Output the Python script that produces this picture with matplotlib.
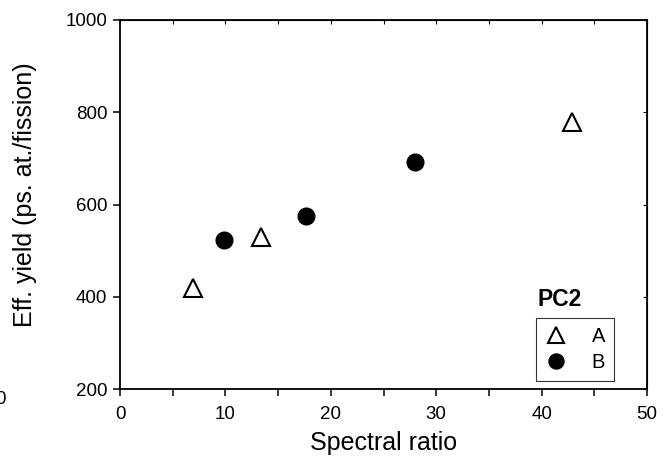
import matplotlib
matplotlib.use("Agg")
import matplotlib.pyplot as plt
from matplotlib.ticker import MultipleLocator

plt.rcParams['font.family'] = ['Liberation Sans', 'DejaVu Sans']

a_x = [6.9, 13.4, 42.9]
a_y = [419, 529, 778]
b_x = [9.9, 17.6, 28.0]
b_y = [523, 574, 693]
x_ticks = [0, 10, 20, 30, 40, 50]
y_ticks = [200, 400, 600, 800, 1000]

W, H = 672, 457
fig = plt.figure(figsize=(W/100, H/100), dpi=100)
ax = fig.add_axes([120/W, 1-389/H, (647-120)/W, (389-20)/H])

ax.plot(a_x, a_y, linestyle='none', marker='^', markersize=13, markerfacecolor='white',
        markeredgecolor='black', markeredgewidth=1.5, label='A', clip_on=False)
ax.plot(b_x, b_y, linestyle='none', marker='o', markersize=12, markerfacecolor='black',
        markeredgecolor='black', label='B', clip_on=False)

ax.set_xlim(0, 50)
ax.set_ylim(200, 1000)
ax.set_xticks(x_ticks)
ax.set_yticks(y_ticks)
ax.xaxis.set_minor_locator(MultipleLocator(5))
for s in ax.spines.values():
    s.set_linewidth(1.3)
ax.tick_params(axis='both', which='both', direction='out', length=5, width=1.1,
               labelsize=13.5, top=False, right=False)
ax.tick_params(axis='x', pad=7)
ax.tick_params(axis='y', pad=4)
# inward ticks on top and right
sec_top = ax.secondary_xaxis('top')
sec_top.set_xticks([v for v in range(0, 51, 5)])
sec_top.tick_params(direction='in', length=3, width=0.8, labeltop=False)
sec_top.set_xticklabels([])
sec_right = ax.secondary_yaxis('right')
sec_right.set_yticks(y_ticks)
sec_right.tick_params(direction='in', length=3, width=0.8)
sec_right.set_yticklabels([])

ax.set_xlabel('Spectral ratio', fontsize=18, labelpad=6)
ax.set_ylabel('Eff. yield (ps. at./fission)', fontsize=18)
ax.yaxis.set_label_coords(-0.157, 0.526)

leg = ax.legend(loc='lower right', bbox_to_anchor=((614-120)/(647-120), (389-381)/(389-20)),
                frameon=True, fancybox=False, edgecolor='black', fontsize=14.5,
                handletextpad=1.2, borderpad=0.45, labelspacing=0.35, handlelength=1.1,
                markerscale=0.9, borderaxespad=0)
leg.get_frame().set_linewidth(0.8)
fig.text(560/W, 1-300/H, 'PC2', fontsize=16.5, fontweight='bold',
         ha='center', va='center')

fig.text(6/W, 1-400/H, '0', fontsize=13.5, ha='right', va='center')

fig.savefig('out.png', dpi=100)
